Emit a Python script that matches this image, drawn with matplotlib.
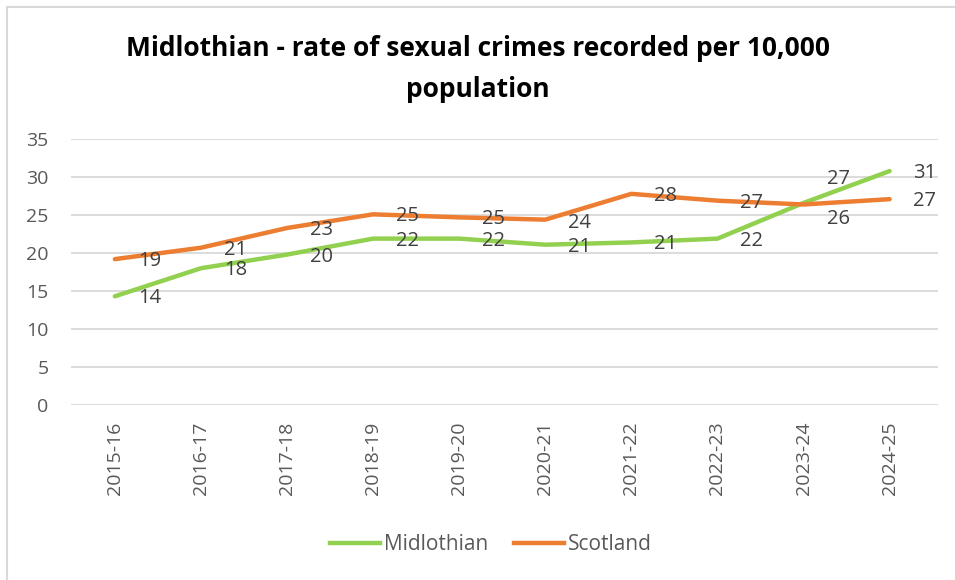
import matplotlib
matplotlib.use("Agg")
import matplotlib.pyplot as plt
from matplotlib.lines import Line2D

# chart data
years = ["2015-16", "2016-17", "2017-18", "2018-19", "2019-20",
         "2020-21", "2021-22", "2022-23", "2023-24", "2024-25"]
midlothian = [14.3, 18.0, 19.8, 21.9, 21.9, 21.1, 21.4, 21.9, 26.6, 30.8]
scotland = [19.2, 20.7, 23.3, 25.1, 24.7, 24.4, 27.8, 26.9, 26.4, 27.1]
yticks = [0, 5, 10, 15, 20, 25, 30, 35]

green = "#92D050"
orange = "#ED7D31"
grey_text = "#595959"
label_col = "#404040"

plt.rcParams["font.family"] = ["Open Sans", "DejaVu Sans"]

fig = plt.figure(figsize=(9.55, 5.8), dpi=100)
ax = fig.add_axes([0.0743, 0.302, 0.9077, 0.458])

x = list(range(len(years)))
ax.plot(x, midlothian, color=green, lw=3.2, solid_capstyle="round", zorder=3)
ax.plot(x, scotland, color=orange, lw=3.2, solid_capstyle="round", zorder=3)

# data labels, to the right of each point (pixel nudges for a couple of them)
px = 72 / 100
nudge_mid = {8: 24}
nudge_sco = {5: -3, 8: -15}
for i in x:
    ax.annotate(f"{midlothian[i]:.0f}", (i, midlothian[i]),
                xytext=(23 * px, nudge_mid.get(i, -2) * px), textcoords="offset points",
                ha="left", va="center", fontsize=14.5, color=label_col, zorder=4)
    ax.annotate(f"{scotland[i]:.0f}", (i, scotland[i]),
                xytext=(23 * px, nudge_sco.get(i, -2) * px), textcoords="offset points",
                ha="left", va="center", fontsize=14.5, color=label_col, zorder=4)

ax.set_xlim(-0.51, 9.56)
ax.set_ylim(0, 35)
ax.set_yticks(yticks)
ax.set_xticks(x)
ax.set_xticklabels(years, rotation=90)
ax.tick_params(axis="y", length=0, pad=16, labelsize=14, labelcolor=grey_text)
ax.tick_params(axis="x", length=0, pad=12, labelsize=14, labelcolor=grey_text)
ax.grid(axis="y", color="#D9D9D9", lw=1.3)
ax.set_axisbelow(True)
for s in ax.spines.values():
    s.set_visible(False)

fig.text(0.5, 0.917, "Midlothian - rate of sexual crimes recorded per 10,000",
         ha="center", va="center", fontsize=19, fontweight="bold", color="#000000")
fig.text(0.5, 0.846, "population",
         ha="center", va="center", fontsize=19, fontweight="bold", color="#000000")

handles = [Line2D([], [], color=green, lw=3.2), Line2D([], [], color=orange, lw=3.2)]
fig.legend(handles, ["Midlothian", "Scotland"], loc="center", bbox_to_anchor=(0.514, 0.061),
           ncol=2, frameon=False, fontsize=15, labelcolor=grey_text,
           handlelength=2.4, handletextpad=0.2, columnspacing=1.2)

# chart border (only left and top visible in the crop)
fig.add_artist(Line2D([7 / 955, 7 / 955], [0, 1 - 7 / 580], color="#D9D9D9", lw=1.5))
fig.add_artist(Line2D([7 / 955, 1], [1 - 7 / 580, 1 - 7 / 580], color="#D9D9D9", lw=1.5))

fig.savefig("out.png", dpi=100)
plt.close(fig)
